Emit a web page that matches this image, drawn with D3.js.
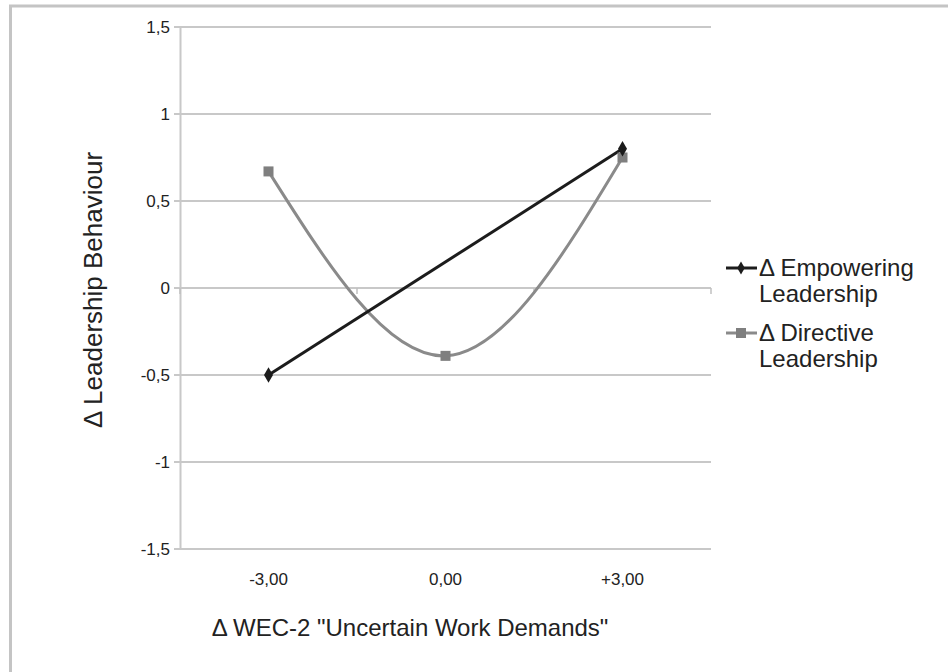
<!DOCTYPE html>
<html>
<head>
<meta charset="utf-8">
<script src="https://cdn.jsdelivr.net/npm/d3@7"></script>
<style>
body { margin: 0; background: #fff; }
text { font-family: "Liberation Sans", Arial, sans-serif; fill: #222; }
</style>
</head>
<body>
<div id="chart"></div>
<script>
// Data
const categories = ["-3,00", "0,00", "+3,00"];
const empowering = [-0.5, null, 0.8];
const directive = [0.67, -0.39, 0.75];
const yTicks = [-1.5, -1, -0.5, 0, 0.5, 1, 1.5];
const seriesNames = [["Δ Empowering", "Leadership"], ["Δ Directive", "Leadership"]];

const W = 948, H = 672;
const margin = {top: 27, right: 237, bottom: 123, left: 180};
const width = W - margin.left - margin.right;
const height = H - margin.top - margin.bottom;

const svg = d3.select("#chart").append("svg")
.attr("width", W)
.attr("height", H);

// outer frame (only top and left visible)
svg.append("path")
.attr("d", `M10.5,${H} L10.5,6 L${W},6`)
.attr("fill", "none")
.attr("stroke", "#c4c4c4")
.attr("stroke-width", 3);

const g = svg.append("g")
.attr("transform", `translate(${margin.left},${margin.top})`);

// X scale
const x = d3.scaleBand()
.domain(categories)
.range([0, width]);

// Y scale
const y = d3.scaleLinear()
.domain([-1.5, 1.5])
.range([height, 0]);

const fmt = v => String(v).replace(".", ",");

// gridlines
g.append("g")
.selectAll("line")
.data(yTicks)
.enter()
.append("line")
.attr("x1", -6)
.attr("x2", width)
.attr("y1", d => y(d))
.attr("y2", d => y(d))
.attr("stroke", "#c8c8c8")
.attr("stroke-width", 2);

// Y axis
const yAxis = g.append("g")
.call(d3.axisLeft(y).tickValues(yTicks).tickFormat(fmt).tickSize(0).tickPadding(10));
yAxis.select(".domain").attr("stroke", "#c8c8c8").attr("stroke-width", 2);
yAxis.selectAll("text").style("font-size", "17px").style("fill", "#222");

// horizontal axis line at zero with ticks between categories
const xAxis = g.append("g")
.attr("transform", `translate(0,${y(0)})`);
const bounds = categories.map(c => x(c)).concat([width]);
xAxis.selectAll(".sep")
.data(bounds)
.enter()
.append("line")
.attr("x1", d => d)
.attr("x2", d => d)
.attr("y1", 0)
.attr("y2", 6)
.attr("stroke", "#c0c0c0")
.attr("stroke-width", 1.5);

// category labels at bottom
g.append("g")
.attr("transform", `translate(0,${height})`)
.call(d3.axisBottom(x).tickSize(0).tickPadding(24))
.call(s => s.select(".domain").remove())
.selectAll("text")
.style("font-size", "17px")
.style("fill", "#222");

const cx = c => x(c) + x.bandwidth() / 2;

// Directive line (smoothed)
const dirPts = categories.map((c, i) => [cx(c), y(directive[i])]);
g.append("path")
.attr("d", d3.line().curve(d3.curveNatural)(dirPts))
.attr("fill", "none")
.attr("stroke", "#8a8a8a")
.attr("stroke-width", 3);

// Empowering line (straight, defined points connected)
const empPts = categories.map((c, i) => [cx(c), empowering[i]]).filter(d => d[1] !== null).map(d => [d[0], y(d[1])]);
g.append("path")
.attr("d", d3.line()(empPts))
.attr("fill", "none")
.attr("stroke", "#1c1c1c")
.attr("stroke-width", 3);

// markers
g.selectAll(".sq")
.data(dirPts)
.enter()
.append("rect")
.attr("x", d => d[0] - 5)
.attr("y", d => d[1] - 5)
.attr("width", 10)
.attr("height", 10)
.attr("fill", "#7f7f7f");

const diamond = d3.symbol().type(d3.symbolDiamond).size(70);
g.selectAll(".dm")
.data(empPts)
.enter()
.append("path")
.attr("transform", d => `translate(${d[0]},${d[1]})`)
.attr("d", diamond)
.attr("fill", "#1c1c1c");

// axis titles
svg.append("text")
.attr("x", 410)
.attr("y", 636)
.attr("text-anchor", "middle")
.attr("font-size", 24)
.text("Δ WEC-2 \"Uncertain Work Demands\"");

svg.append("text")
.attr("transform", "translate(102,290) rotate(-90)")
.attr("text-anchor", "middle")
.attr("font-size", 26)
.text("Δ Leadership Behaviour");

// legend
const colors = ["#1c1c1c", "#8a8a8a"];
const leg = svg.append("g").attr("transform", "translate(726,268)");
seriesNames.forEach((name, i) => {
const row = leg.append("g").attr("transform", `translate(0,${i * 65})`);
row.append("line")
.attr("x1", 0).attr("x2", 31)
.attr("stroke", colors[i]).attr("stroke-width", 3);
if (i === 0) {
row.append("path").attr("transform", "translate(15,0)").attr("d", d3.symbol().type(d3.symbolDiamond).size(50)).attr("fill", colors[i]);
} else {
row.append("rect").attr("x", 10).attr("y", -5).attr("width", 10).attr("height", 10).attr("fill", "#7f7f7f");
}
name.forEach((t, j) => {
row.append("text")
.attr("x", 33)
.attr("y", 8 + j * 26)
.attr("font-size", 24)
.text(t);
});
});
</script>
</body>
</html>
